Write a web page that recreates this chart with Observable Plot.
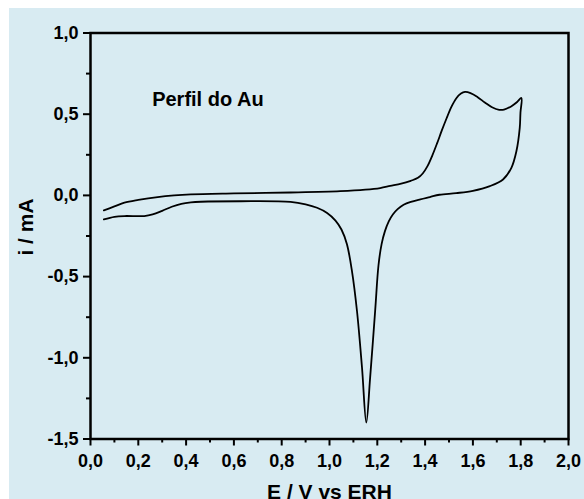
<!DOCTYPE html>
<html>
<head>
<meta charset="utf-8">
<script src="https://cdn.jsdelivr.net/npm/d3@7"></script>
<script src="https://cdn.jsdelivr.net/npm/@observablehq/plot@0.6"></script>
<style>
  html, body { margin: 0; padding: 0; background: #ffffff; }
  #wrap { position: relative; width: 584px; height: 499px; overflow: hidden; }
  #bg { position: absolute; left: 9px; top: 8px; right: 0; bottom: 0; background: rgb(216,235,242); }
  #chart { position: absolute; left: 0; top: 0; }
</style>
</head>
<body>
<div id="wrap"><div id="bg"></div><div id="chart"></div></div>
<script>
// Cyclic voltammogram of Au: forward (anodic) scan then reverse (cathodic) scan
const potentialE = [
  0.056, 0.10, 0.142, 0.20, 0.281, 0.35, 0.42, 0.60, 0.837, 1.045, 1.15, 1.212, 1.254, 1.30, 1.34, 1.37, 1.39, 1.41, 1.43, 1.45, 1.47, 1.49, 1.51, 1.53, 1.55, 1.567, 1.59, 1.62, 1.65, 1.68, 1.71, 1.73, 1.76, 1.785, 1.803,
  1.799, 1.796, 1.782, 1.761, 1.726, 1.671, 1.60, 1.53, 1.46, 1.42, 1.38, 1.34, 1.31, 1.285, 1.265, 1.248, 1.232, 1.218, 1.205, 1.191, 1.170, 1.154, 1.136, 1.115, 1.094, 1.073, 1.050, 1.025, 0.990, 0.948, 0.90, 0.837, 0.628, 0.462, 0.42, 0.38, 0.34, 0.30, 0.26, 0.225, 0.142, 0.10, 0.056
];
const currentI = [
  -0.092, -0.068, -0.045, -0.028, -0.010, 0.000, 0.006, 0.012, 0.018, 0.026, 0.035, 0.045, 0.058, 0.072, 0.090, 0.108, 0.135, 0.180, 0.245, 0.320, 0.400, 0.475, 0.545, 0.597, 0.627, 0.637, 0.630, 0.605, 0.572, 0.543, 0.527, 0.528, 0.548, 0.575, 0.600,
  0.510, 0.416, 0.272, 0.170, 0.098, 0.057, 0.028, 0.014, 0.004, -0.010, -0.024, -0.040, -0.058, -0.085, -0.118, -0.160, -0.220, -0.300, -0.430, -0.711, -1.122, -1.399, -1.060, -0.712, -0.466, -0.301, -0.210, -0.155, -0.108, -0.076, -0.055, -0.040, -0.036, -0.039, -0.043, -0.052, -0.070, -0.095, -0.117, -0.127, -0.127, -0.132, -0.148
];
const xMajorTicks = [0, 0.2, 0.4, 0.6, 0.8, 1.0, 1.2, 1.4, 1.6, 1.8, 2.0];
const xMinorTicks = [0.1, 0.3, 0.5, 0.7, 0.9, 1.1, 1.3, 1.5, 1.7, 1.9];
const yMajorTicks = [-1.5, -1.0, -0.5, 0.0, 0.5, 1.0];
const yMinorTicks = [-1.25, -0.75, -0.25, 0.25, 0.75];
const annotationText = ["Perfil do Au"];
const annotationE = [0.258];
const annotationI = [0.59];
const xLabel = "E / V vs ERH";
const yLabel = "i / mA";

const cv = potentialE.map((e, k) => ({E: e, I: currentI[k]}));
const notes = annotationText.map((t, k) => ({t, E: annotationE[k], I: annotationI[k]}));
const fmt = d => d.toFixed(1).replace(".", ",");

const chart = Plot.plot({
  width: 584,
  height: 499,
  marginLeft: 90,
  marginRight: 16,
  marginTop: 32.5,
  marginBottom: 60.5,
  style: {background: "transparent", color: "black", fontFamily: "'Liberation Sans', Arial, sans-serif", fontSize: "18px", fontWeight: "bold"},
  x: {domain: [0, 2]},
  y: {domain: [-1.5, 1.0]},
  marks: [
    Plot.axisX(xMajorTicks, {tickSize: 7, tickPadding: 8, tickFormat: fmt, strokeWidth: 2, label: null, fontSize: 18, fontWeight: "bold"}),
    Plot.axisX(xMinorTicks, {tickSize: 4, tickFormat: () => "", strokeWidth: 2, label: null}),
    Plot.axisY(yMajorTicks, {tickSize: 7, tickPadding: 5, tickFormat: fmt, strokeWidth: 2, label: null, fontSize: 18, fontWeight: "bold"}),
    Plot.axisY(yMinorTicks, {tickSize: 4, tickFormat: () => "", strokeWidth: 2, label: null}),
    Plot.line(cv, {x: "E", y: "I", curve: "catmull-rom", stroke: "black", strokeWidth: 1.8}),
    Plot.frame({stroke: "black", strokeWidth: 2.5}),
    Plot.text(notes, {x: "E", y: "I", text: "t", textAnchor: "start", fontSize: 20, fontWeight: "bold"}),
    Plot.text([xLabel], {frameAnchor: "bottom", text: d => d, textAnchor: "middle", lineAnchor: "top", dy: 45, fontSize: 21, fontWeight: "bold"}),
    Plot.text([yLabel], {frameAnchor: "left", text: d => d, textAnchor: "middle", lineAnchor: "middle", rotate: -90, dx: -64, dy: -9, fontSize: 21, fontWeight: "bold"})
  ]
});
d3.select(chart).selectAll('g[aria-label$="tick label"] text').style("font-size", "18px").style("font-weight", "bold");
document.getElementById("chart").appendChild(chart);
</script>
</body>
</html>
